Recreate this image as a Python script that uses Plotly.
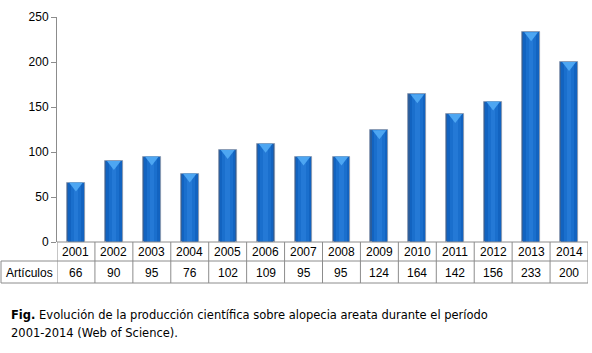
import plotly.graph_objects as go

years = ["2001", "2002", "2003", "2004", "2005", "2006", "2007", "2008",
         "2009", "2010", "2011", "2012", "2013", "2014"]
articulos = [66, 90, 95, 76, 102, 109, 95, 95, 124, 164, 142, 156, 233, 200]
row_label = "Artículos"
y_ticks = [0, 50, 100, 150, 200, 250]
caption_bold = "Fig."
caption_line1 = " Evolución de la producción científica sobre alopecia areata durante el período"
caption_line2 = "2001-2014 (Web of Science)."

W, H = 592, 353
L, R, T, B = 57, 4, 17, 111
pw, ph = W - L - R, H - T - B

def py(pix):  # pixel y -> paper y
    return (H - B - pix) / ph

def px(pix):
    return (pix - L) / pw

n = len(years)
xs = list(range(n))

fig = go.Figure()
# layered bars to mimic cylinder shading
layers = [(0.47, "#2a5d9c", "#8a98ad", 0.8), (0.41, "#1263c0", None, 0), (0.28, "#1a6fcd", None, 0),
          (0.12, "#2479d6", None, 0)]
for w, c, lc, lw in layers:
    fig.add_trace(go.Bar(x=xs, y=articulos, width=w,
                         marker=dict(color=c, line=dict(color=lc or c, width=lw)),
                         hoverinfo="skip", showlegend=False))
# light cap at top (drawn on a slightly shifted twin axis so it sits inside the bar)
fig.add_trace(go.Scatter(x=xs, y=articulos, mode="markers", yaxis="y2",
                         marker=dict(symbol="triangle-down", size=12, color="#4da6f2",
                                     line=dict(width=0)),
                         hoverinfo="skip", showlegend=False, cliponaxis=False))

shapes = []
line = dict(color="#8c8c8c", width=1)
y_top, y_mid, y_bot = py(242), py(261), py(283)
shapes.append(dict(type="line", xref="paper", yref="paper", x0=0, x1=1, y0=y_top, y1=y_top, line=line))
for yy in (y_mid, y_bot):
    shapes.append(dict(type="line", xref="paper", yref="paper", x0=px(1), x1=1, y0=yy, y1=yy, line=line))
for i in range(n + 1):
    shapes.append(dict(type="line", xref="x", yref="paper", x0=i - 0.5, x1=i - 0.5,
                       y0=y_top, y1=y_bot, line=line))
shapes.append(dict(type="line", xref="paper", yref="paper", x0=px(1), x1=px(1),
                   y0=y_mid, y1=y_bot, line=line))

ann = []
tfont = dict(family="Liberation Sans, Arial, sans-serif", size=12, color="#000000")
for i, (yr, v) in enumerate(zip(years, articulos)):
    ann.append(dict(x=i, y=py(252), xref="x", yref="paper", text=yr, showarrow=False, font=tfont,
                    xanchor="center", yanchor="middle"))
    ann.append(dict(x=i, y=py(272.5), xref="x", yref="paper", text=str(v), showarrow=False, font=tfont,
                    xanchor="center", yanchor="middle"))
ann.append(dict(x=px(29), y=py(272.5), xref="paper", yref="paper", text=row_label,
                showarrow=False, font=tfont, xanchor="center", yanchor="middle"))
cfont = dict(family="DejaVu Sans, Verdana, sans-serif", size=11.5, color="#000000")
ann.append(dict(x=px(9), y=py(315), xref="paper", yref="paper", xanchor="left", yanchor="middle",
                text="<b>" + caption_bold + "</b>" + caption_line1, showarrow=False, font=cfont))
ann.append(dict(x=px(9), y=py(333), xref="paper", yref="paper", xanchor="left", yanchor="middle",
                text=caption_line2, showarrow=False, font=cfont))

fig.update_layout(
    width=W, height=H, margin=dict(l=L, r=R, t=T, b=B),
    paper_bgcolor="white", plot_bgcolor="white",
    barmode="overlay", bargap=0,
    shapes=shapes, annotations=ann,
    xaxis=dict(range=[-0.5, n - 0.5], showticklabels=False, showgrid=False, zeroline=False,
               showline=False, ticks=""),
    yaxis=dict(range=[0, 250], tickvals=y_ticks, showgrid=False, zeroline=False,
               showline=True, linecolor="#8c8c8c", linewidth=1, ticks="outside", ticklen=5,
               tickcolor="#8c8c8c", tickfont=tfont),
    yaxis2=dict(range=[3.2, 253.2], overlaying="y", visible=False),
)
fig.write_html("out.html")
